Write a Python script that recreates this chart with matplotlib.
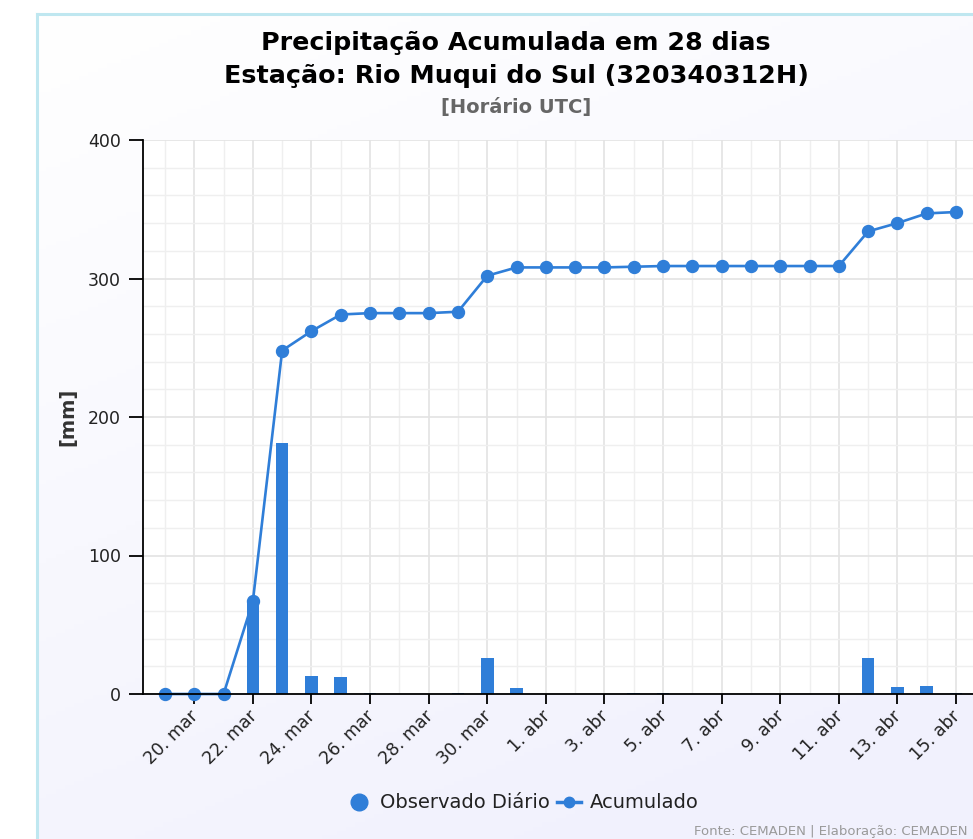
import matplotlib
matplotlib.use("Agg")
import matplotlib.pyplot as plt
import matplotlib.dates as mdates
import matplotlib.transforms as mtransforms
from matplotlib.lines import Line2D
import numpy as np
import pandas as pd

# ---- data ----
dates = pd.date_range("2024-03-19", "2024-04-15", freq="D")
daily = [0, 0, 0, 67, 181, 13, 12, 0.5, 0, 0, 0.5, 26, 4, 0, 0, 0, 0.5, 0.5,
         0, 0, 0, 0, 0, 0, 26, 5, 6, 0.4]
accum = [0, 0, 0, 67, 248, 262, 274, 275, 275, 275, 276, 302, 308, 308, 308, 308,
         308.5, 309, 309, 309, 309, 309, 309, 309, 334, 340, 347, 348]
title1 = "Precipitação Acumulada em 28 dias"
title2 = "Estação: Rio Muqui do Sul (320340312H)"
subtitle = "[Horário UTC]"
ylabel = "[mm]"
series_names = ["Observado Diário", "Acumulado"]
footer = "Fonte: CEMADEN | Elaboração: CEMADEN"
month_abbr = {3: "mar", 4: "abr"}

W, H = 973, 839
BLUE = "#2f7ed8"
plt.rcParams["font.family"] = ["DejaVu Sans"]

fig = plt.figure(figsize=(W / 100, H / 100), dpi=100)
fig.patch.set_facecolor("white")

# background panel with gradient
bx0, by_top = 37, 14
bg = fig.add_axes([bx0 / W, 0, 1 - bx0 / W, (H - by_top) / H])
gx = np.linspace(0, 1, 200)
gy = np.linspace(0, 1, 200)
GX, GY = np.meshgrid(gx, gy)
t = np.clip(0.35 * GX + 0.75 * GY, 0, 1)
c0 = np.array([255, 255, 255]) / 255
c1 = np.array([241, 241, 253]) / 255
img = c0[None, None, :] * (1 - t[..., None]) + c1[None, None, :] * t[..., None]
bg.imshow(img, aspect="auto", extent=[0, 1, 0, 1], origin="upper")
bg.set_axis_off()
fig.add_artist(Line2D([bx0 / W, bx0 / W], [0, 1 - by_top / H], transform=fig.transFigure,
                      color="#bfe7f0", lw=2.2))
fig.add_artist(Line2D([bx0 / W, 1], [1 - by_top / H, 1 - by_top / H], transform=fig.transFigure,
                      color="#bfe7f0", lw=2.2))

# plot area
L, R, T, B = 143, 978, 140, 694
ax = fig.add_axes([L / W, 1 - B / H, (R - L) / W, (B - T) / H])
ax.set_facecolor("white")

x = mdates.date2num(dates)
ax.bar(x, daily, width=0.43, color=BLUE, linewidth=0, zorder=3)
ax.plot(x, accum, color=BLUE, lw=1.9, marker="o", markersize=8.6, zorder=4, clip_on=False)

ax.set_xlim(x[0] - 0.75, x[-1] + 0.75)
ax.set_ylim(0, 400)

major_x = x[1::2]
ax.set_xticks(major_x)
ax.set_xticklabels([f"{d.day}. {month_abbr[d.month]}" for d in dates[1::2]],
                   rotation=45, ha="right", rotation_mode="anchor", fontsize=12.5, color="#222222")
ax.set_xticks(x, minor=True)
ax.set_yticks([0, 100, 200, 300, 400])
ax.set_yticks(np.arange(0, 401, 20), minor=True)
ax.tick_params(axis="y", which="major", length=10, width=1.3, color="black", pad=6,
               labelsize=12.5, labelcolor="#222222")
ax.tick_params(axis="x", which="major", length=7.5, width=1.3, color="black", pad=4)
ax.tick_params(which="minor", length=0)

offset = mtransforms.ScaledTranslation(-5 / 100, 3 / 100, fig.dpi_scale_trans)
for tk in ax.xaxis.get_major_ticks():
    tk.label1.set_transform(tk.label1.get_transform() + offset)

ax.grid(which="major", color="#e3e3e3", lw=1.2, zorder=0)
ax.grid(which="minor", color="#efefef", lw=1.0, zorder=0)
ax.set_axisbelow(True)

for s in ["top", "right"]:
    ax.spines[s].set_visible(False)
ax.spines["left"].set_color("black")
ax.spines["left"].set_linewidth(1.3)
ax.spines["bottom"].set_color("black")
ax.spines["bottom"].set_linewidth(1.3)
ax.spines["bottom"].set_zorder(5)

fig.text(68 / W, 1 - 417 / H, ylabel, rotation=90, ha="center", va="center",
         fontsize=14, fontweight="bold", color="#333333")

# titles
cx = 516 / W
fig.text(cx, 1 - 43 / H, title1, ha="center", va="center", fontsize=18.3, fontweight="bold", color="black")
fig.text(cx, 1 - 76 / H, title2, ha="center", va="center", fontsize=18.3, fontweight="bold", color="black")
fig.text(cx, 1 - 108 / H, subtitle, ha="center", va="center", fontsize=14, fontweight="bold", color="#666666")

# legend
h1 = Line2D([], [], color=BLUE, marker="o", markersize=12, linestyle="none")
h2 = Line2D([], [], color=BLUE, marker="o", markersize=7.5, lw=2.5)
fig.legend([h1, h2], series_names, loc="center", bbox_to_anchor=(523 / W, 1 - 803 / H),
           ncol=2, frameon=False, fontsize=14, handlelength=1.2, handletextpad=0.45,
           columnspacing=0.4, labelcolor="#222222")

fig.text(694 / W, 1 - 831 / H, footer, ha="left", va="center", fontsize=9.5, color="#9a9a9a")

fig.savefig("out.png", dpi=100)
